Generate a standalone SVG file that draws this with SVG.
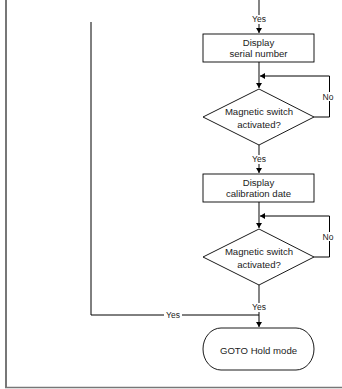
<svg xmlns="http://www.w3.org/2000/svg" width="342" height="389" viewBox="0 0 342 389">
<style>
.shape{fill:#fff;stroke:#000;stroke-width:0.9}
.t{font-family:"Liberation Sans",Arial,sans-serif;font-size:9.6px;fill:#222;text-anchor:middle}
.lb{font-family:"Liberation Sans",Arial,sans-serif;font-size:8.5px;fill:#222;text-anchor:middle}
.main{stroke:#666;stroke-width:1.6;fill:none}
.thin{stroke:#000;stroke-width:1;fill:none}
.frame{stroke:#777;fill:none}
</style>
<defs>
<marker id="arr" markerWidth="6" markerHeight="6" refX="5" refY="3" orient="auto" markerUnits="userSpaceOnUse">
<path d="M0,0 L5,3 L0,6 Z" fill="#000"/>
</marker>
</defs>
<rect width="342" height="389" fill="#fff"/>
<g id="frame">
<line class="frame" x1="6" y1="0" x2="6" y2="388" stroke-width="2"/>
<line class="frame" x1="5" y1="387.5" x2="342" y2="387.5" stroke-width="1.5"/>
</g>
<g id="connectors">
<line class="main" x1="259" y1="0" x2="259" y2="33" marker-end="url(#arr)"/>
<line class="main" x1="259" y1="62" x2="259" y2="88" marker-end="url(#arr)"/>
<polyline class="thin" points="314,117 329.5,117 329.5,76 260,76" marker-end="url(#arr)"/>
<line class="main" x1="259" y1="145" x2="259" y2="173" marker-end="url(#arr)"/>
<line class="main" x1="259" y1="202" x2="259" y2="228" marker-end="url(#arr)"/>
<polyline class="thin" points="314,257 329.5,257 329.5,216 260,216" marker-end="url(#arr)"/>
<line class="main" x1="259" y1="285" x2="259" y2="315"/>
<polyline class="thin" points="91,22 91,315 259,315"/>
<line class="thin" x1="259" y1="315" x2="259" y2="327" marker-end="url(#arr)"/>
<rect x="250" y="15" width="18" height="9" fill="#fff"/>
<text class="lb" x="259" y="22">Yes</text>
<rect x="250" y="155" width="18" height="9" fill="#fff"/>
<text class="lb" x="259" y="162">Yes</text>
<rect x="250" y="303" width="18" height="9" fill="#fff"/>
<text class="lb" x="259" y="310">Yes</text>
<rect x="164" y="311" width="18" height="8" fill="#fff"/>
<text class="lb" x="173" y="318">Yes</text>
<rect x="321" y="92" width="14" height="9" fill="#fff"/>
<text class="lb" x="328" y="99.5">No</text>
<rect x="321" y="232" width="14" height="9" fill="#fff"/>
<text class="lb" x="328" y="239.5">No</text>
</g>
<g id="display-serial">
<rect class="shape" x="203" y="34" width="111" height="28"/>
<text class="t" x="258.5" y="45.5">Display</text>
<text class="t" x="258.5" y="57">serial number</text>
</g>
<g id="switch1">
<polygon class="shape" points="259,89 314,117 259,145 203,117"/>
<text class="t" x="259" y="115">Magnetic switch</text>
<text class="t" x="259" y="127.5">activated?</text>
</g>
<g id="display-calibration">
<rect class="shape" x="203" y="174" width="111" height="28"/>
<text class="t" x="258.5" y="185.5">Display</text>
<text class="t" x="258.5" y="197">calibration date</text>
</g>
<g id="switch2">
<polygon class="shape" points="259,229 314,257 259,285 203,257"/>
<text class="t" x="259" y="255">Magnetic switch</text>
<text class="t" x="259" y="267.5">activated?</text>
</g>
<g id="goto-hold">
<rect class="shape" x="203" y="328" width="111" height="42" rx="18" ry="21"/>
<text class="t" x="258.5" y="353.5">GOTO Hold mode</text>
</g>
</svg>
